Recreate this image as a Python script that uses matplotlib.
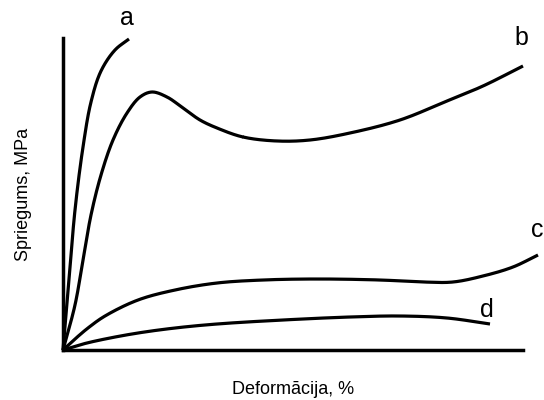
import matplotlib
matplotlib.use("Agg")
import matplotlib.pyplot as plt
import numpy as np

plt.rcParams['font.family'] = ['Liberation Sans', 'DejaVu Sans']

# curves (arbitrary units: deformation, stress)
a_x = [0, 6, 12, 20, 28, 38, 52, 66]
a_y = [0, 70, 140, 203, 248, 279, 300, 311]

b_x = [0, 12, 20, 28, 38, 50, 64, 77, 89, 104, 120, 137, 154, 180, 214, 247, 287, 337, 384, 420, 460]
b_y = [0, 45, 90, 135, 175, 210, 237, 253, 258, 253, 242, 230, 222, 213, 209, 210, 217, 230, 249, 264, 284]

c_x = [0, 12, 25, 42, 75, 112, 154, 200, 254, 317, 360, 390, 420, 450, 475]
c_y = [0, 11, 22, 34, 50, 60, 67, 70, 71, 70, 68, 68, 74, 83, 95]

d_x = [0, 20, 42, 75, 112, 154, 220, 287, 337, 384, 427]
d_y = [0, 6, 11, 17, 22, 26, 30, 33, 34, 32, 26]

labels = ['a', 'b', 'c', 'd']
label_pos = [(64, 332), (458, 312), (474, 120), (424, 40)]


def smooth(xs, ys, alpha=0.5):
    # centripetal Catmull-Rom through the read points
    pts = np.array(list(zip(xs, ys)), dtype=float)
    p = np.vstack([2 * pts[0] - pts[1], pts, 2 * pts[-1] - pts[-2]])
    out = []
    for i in range(1, len(p) - 2):
        P0, P1, P2, P3 = p[i - 1], p[i], p[i + 1], p[i + 2]
        t0 = 0.0
        t1 = t0 + np.linalg.norm(P1 - P0) ** alpha
        t2 = t1 + np.linalg.norm(P2 - P1) ** alpha
        t3 = t2 + np.linalg.norm(P3 - P2) ** alpha
        t = np.linspace(t1, t2, 25)[:, None]
        A1 = (t1 - t) / (t1 - t0) * P0 + (t - t0) / (t1 - t0) * P1
        A2 = (t2 - t) / (t2 - t1) * P1 + (t - t1) / (t2 - t1) * P2
        A3 = (t3 - t) / (t3 - t2) * P2 + (t - t2) / (t3 - t2) * P3
        B1 = (t2 - t) / (t2 - t0) * A1 + (t - t0) / (t2 - t0) * A2
        B2 = (t3 - t) / (t3 - t1) * A2 + (t - t1) / (t3 - t1) * A3
        C = (t2 - t) / (t2 - t1) * B1 + (t - t1) / (t2 - t1) * B2
        out.append(C)
    out = np.vstack(out)
    return out[:, 0], out[:, 1]


fig = plt.figure(figsize=(5.44, 4.0), dpi=100)
ax = fig.add_axes([63 / 544, 50 / 400, 460 / 544, 312 / 400])

for xs, ys in [(a_x, a_y), (b_x, b_y), (c_x, c_y), (d_x, d_y)]:
    sx, sy = smooth(xs, ys)
    ax.plot(sx, sy, color='black', lw=2.3, clip_on=False, solid_capstyle='butt')

for lab, (lx, ly) in zip(labels, label_pos):
    ax.text(lx, ly, lab, fontsize=18, ha='center', va='center')

ax.set_xlim(0, 460)
ax.set_ylim(0, 312)
ax.set_xticks([])
ax.set_yticks([])
for s in ['top', 'right']:
    ax.spines[s].set_visible(False)
for s in ['left', 'bottom']:
    ax.spines[s].set_linewidth(2.5)

ax.set_xlabel('Deformācija, %', fontsize=13, labelpad=22)
ax.set_ylabel('Spriegums, MPa', fontsize=13, labelpad=22)

fig.savefig('out.png', dpi=100, facecolor='white')
